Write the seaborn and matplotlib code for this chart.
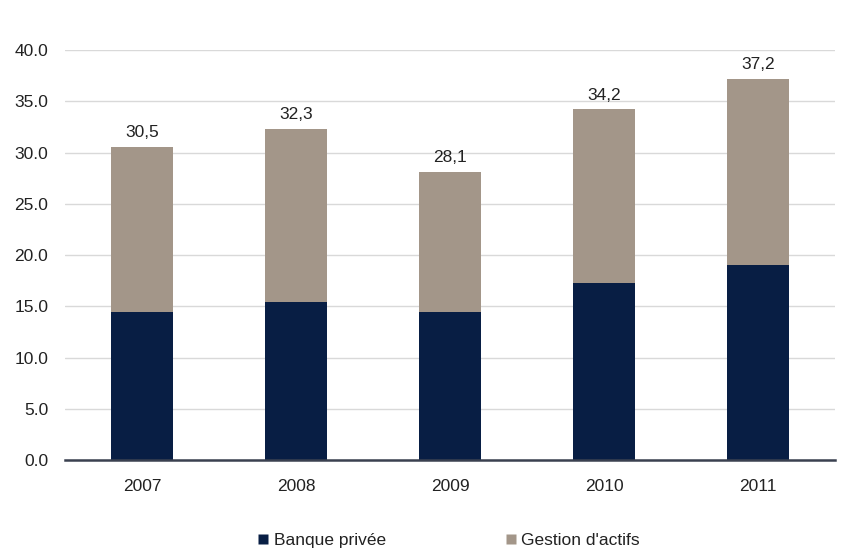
import matplotlib
matplotlib.use("Agg")
import matplotlib.pyplot as plt
import seaborn as sns
import pandas as pd
from matplotlib.lines import Line2D

years = ["2007", "2008", "2009", "2010", "2011"]
banque_privee = [14.4, 15.4, 14.4, 17.3, 19.0]
totals = [30.5, 32.3, 28.1, 34.2, 37.2]
total_labels = ["30,5", "32,3", "28,1", "34,2", "37,2"]
yticks = [0, 5, 10, 15, 20, 25, 30, 35, 40]

navy = "#081e44"
taupe = "#a39689"

sns.set_theme(style="white")
plt.rcParams['font.family'] = ['Liberation Sans', 'DejaVu Sans']

df = pd.DataFrame({"year": years, "banque": banque_privee, "total": totals})

fig = plt.figure(figsize=(8.67, 5.5), dpi=100)
ax = fig.add_axes([0.075, 0.1636, 0.888, 0.7454])

sns.barplot(data=df, x="year", y="total", color=taupe, width=0.4, ax=ax,
            saturation=1, edgecolor="none")
sns.barplot(data=df, x="year", y="banque", color=navy, width=0.4, ax=ax,
            saturation=1, edgecolor="none")

for i, (t, lab) in enumerate(zip(totals, total_labels)):
    ax.annotate(lab, (i, t), xytext=(0, 5), textcoords="offset points",
                ha="center", va="bottom", fontsize=12.5, color="#222222")

ax.set_ylim(0, 40)
ax.set_xlim(-0.5, 4.5)
ax.set_yticks(yticks)
ax.set_yticklabels([f"{v:.1f}" for v in yticks])
ax.yaxis.grid(True, color="#d9d9d9", linewidth=1)
ax.set_axisbelow(True)
for s in ["top", "right", "left"]:
    ax.spines[s].set_visible(False)
ax.spines["bottom"].set_color("#3a4150")
ax.spines["bottom"].set_linewidth(1.8)
ax.set_xlabel("")
ax.set_ylabel("")
ax.tick_params(axis="both", length=0, labelsize=12.5, colors="#222222")
ax.tick_params(axis="y", pad=12)
ax.tick_params(axis="x", pad=14)

handles = [Line2D([0], [0], marker="s", linestyle="none", markersize=7,
                  markerfacecolor=navy, markeredgecolor="none"),
           Line2D([0], [0], marker="s", linestyle="none", markersize=7,
                  markerfacecolor=taupe, markeredgecolor="none")]
fig.legend(handles, ["Banque privée", "Gestion d'actifs"], loc="center",
           bbox_to_anchor=(0.517, 0.018), ncol=2, frameon=False,
           fontsize=12.5, handletextpad=0.2, columnspacing=6.8,
           handlelength=0.8, labelcolor="#222222")

fig.savefig("out.png", dpi=100, facecolor="white")
